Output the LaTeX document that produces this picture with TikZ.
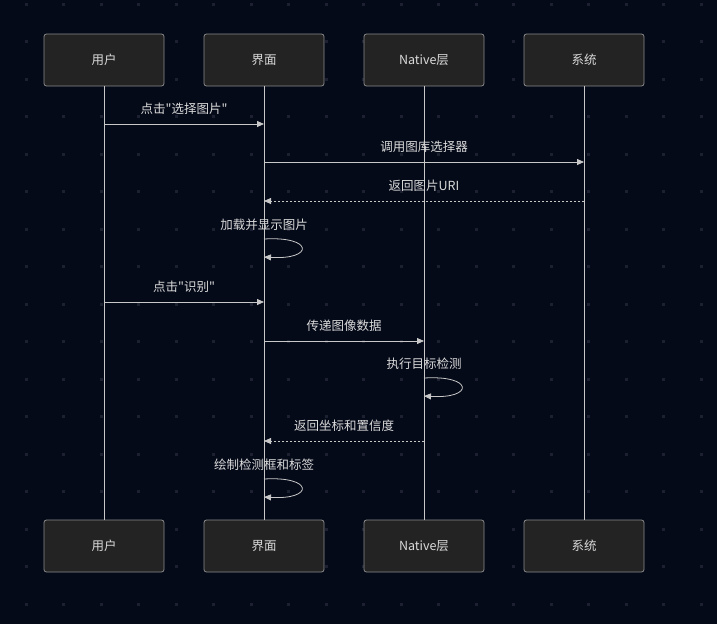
\documentclass[tikz,border=0pt]{standalone}
\usepackage{fontspec}
\newfontfamily\cjk{Noto Sans CJK SC}
\usetikzlibrary{arrows.meta,positioning}
\definecolor{fondnuit}{HTML}{050A19}
\definecolor{boite}{HTML}{222322}
\definecolor{bord}{HTML}{8A8A8A}
\definecolor{trait}{HTML}{C8C8C8}
\definecolor{texte}{HTML}{DADADA}
\definecolor{point}{HTML}{1C2030}

\begin{document}
\begin{tikzpicture}[
  x=1pt, y=-1pt,
  >={Triangle[length=7pt,width=6pt]},
  node distance=39.2pt,
  box/.style={draw=bord, fill=boite, rounded corners=2.5pt, line width=0.8pt,
              minimum width=120pt, minimum height=52pt, text=texte,
              font=\cjk\fontsize{12.5}{14}\selectfont},
  life/.style={draw=trait, line width=1pt},
  msg/.style={draw=trait, line width=0.8pt, ->},
  ret/.style={msg, dash pattern=on 2pt off 2pt},
  lbl/.style={text=texte, font=\cjk\fontsize{12.5}{14}\selectfont, inner sep=1pt}
]
\fill[fondnuit] (0,0) rectangle (717,624);
\useasboundingbox (0,0) rectangle (717,624);
% dot grid
\foreach \i in {0,...,18}
  \foreach \j in {0,...,16}
    \fill[point] (24.5+37.5*\i, 2.5+37.5*\j) rectangle ++(3,3);

% participants
\node[box] (user) at (104,60) {用户};
\node[box, right=of user] (ui) {界面};
\node[box, right=of ui] (native) {Native层};
\node[box, right=of native] (sys) {系统};

\node[box] (userb) at (104,546) {用户};
\node[box, right=of userb] (uib) {界面};
\node[box, right=of uib] (nativeb) {Native层};
\node[box, right=of nativeb] (sysb) {系统};

% lifelines
\foreach \p in {user,ui,native,sys}
  \draw[life] (\p.south) -- (\p b.north);

% messages
\draw[msg] (user.south |- 0,124) -- (ui.south |- 0,124)
      node[midway, above=8pt, lbl] {点击"选择图片"};
\draw[msg] (ui.south |- 0,162) -- (sys.south |- 0,162)
      node[midway, above=8pt, lbl] {调用图库选择器};
\draw[ret] (sys.south |- 0,201) -- (ui.south |- 0,201)
      node[midway, above=8pt, lbl] {返回图片URI};
\node[lbl] (lblload) at (ui.south |- 0,225) {加载并显示图片};
\draw[msg] (ui.south |- 0,239) .. controls +(50,-3) and +(50,3) .. (ui.south |- 0,257);
\draw[msg] (user.south |- 0,302) -- (ui.south |- 0,302)
      node[midway, above=8pt, lbl] {点击"识别"};
\draw[msg] (ui.south |- 0,341) -- (native.south |- 0,341)
      node[midway, above=8pt, lbl] {传递图像数据};
\node[lbl] (lbldetect) at (native.south |- 0,364) {执行目标检测};
\draw[msg] (native.south |- 0,378) .. controls +(50,-3) and +(50,3) .. (native.south |- 0,396);
\draw[ret] (native.south |- 0,441) -- (ui.south |- 0,441)
      node[midway, above=8pt, lbl] {返回坐标和置信度};
\node[lbl] (lbldraw) at (ui.south |- 0,465) {绘制检测框和标签};
\draw[msg] (ui.south |- 0,479) .. controls +(50,-3) and +(50,3) .. (ui.south |- 0,497);
\end{tikzpicture}
\end{document}
